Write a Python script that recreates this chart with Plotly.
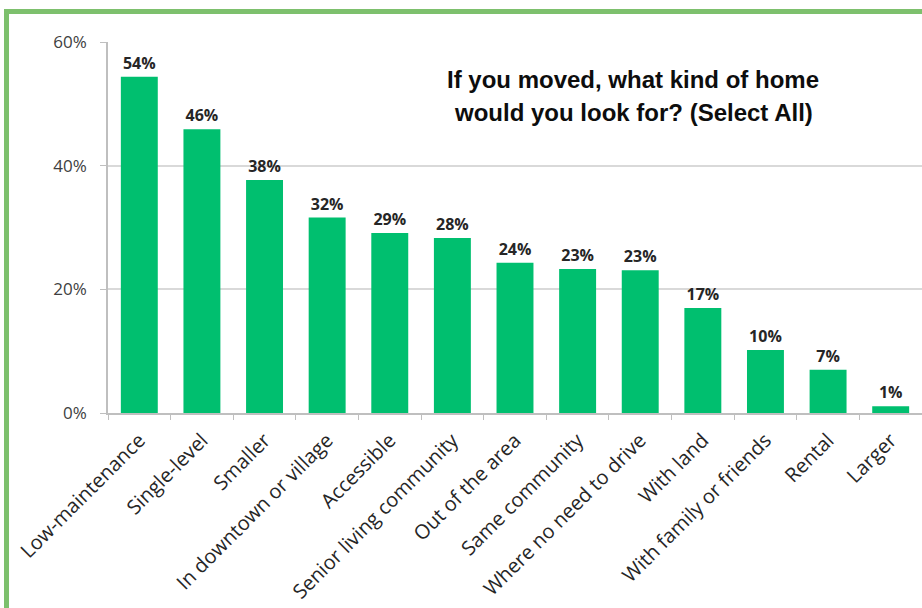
import plotly.graph_objects as go

categories = ["Low-maintenance", "Single-level", "Smaller", "In downtown or village",
              "Accessible", "Senior living community", "Out of the area", "Same community",
              "Where no need to drive", "With land", "With family or friends", "Rental", "Larger"]
values = [54.4, 45.9, 37.7, 31.6, 29.1, 28.3, 24.3, 23.3, 23.1, 17.0, 10.2, 7.0, 1.1]
value_labels = ["54%", "46%", "38%", "32%", "29%", "28%", "24%", "23%", "23%", "17%", "10%", "7%", "1%"]
y_ticks = [0, 20, 40, 60]
y_tick_labels = ["0%", "20%", "40%", "60%"]
title_lines = ["If you moved, what kind of home", "would you look for? (Select All)"]

W, H = 922, 608
ml, mr, mt, mb = 108, 0, 42, 195
pw, ph = W - ml - mr, H - mt - mb

fig = go.Figure(go.Bar(
    x=categories, y=values, marker=dict(color="#00BF6F", line=dict(width=0)),
    text=value_labels, textposition="outside", cliponaxis=False,
    textfont=dict(family="Open Sans", size=16, color="#262626"),
    texttemplate="<b>%{text}</b>",
))

def py(pix):
    return (H - mb - pix) / ph

annotations = []
for line, base in zip(title_lines, [89, 122]):
    annotations.append(dict(text="<b>" + line + "</b>", xref="paper", yref="paper",
                            x=(633 - ml) / pw, y=py(base + 6), xanchor="center", yanchor="bottom",
                            showarrow=False,
                            font=dict(family="Liberation Sans", size=24, color="#0D0D0D")))

fig.update_layout(
    width=W, height=H, margin=dict(l=ml, r=mr, t=mt, b=mb, autoexpand=False),
    paper_bgcolor="white", plot_bgcolor="white", showlegend=False, bargap=0.41,
    xaxis=dict(tickangle=-45, tickfont=dict(family="Open Sans", size=20, color="#262626"),
               showline=True, linecolor="#BFBFBF", linewidth=1.5, ticks="outside",
               tickson="boundaries", ticklen=5, tickcolor="#BFBFBF", showgrid=False,
               automargin=False, ticklabelstandoff=6),
    yaxis=dict(range=[0, 60], tickvals=y_ticks, ticktext=y_tick_labels,
               tickfont=dict(family="Open Sans", size=17, color="#404040"),
               showline=True, linecolor="#BFBFBF", linewidth=1.5, ticks="outside",
               ticklen=6, tickcolor="#BFBFBF", showgrid=True, gridcolor="#D9D9D9",
               gridwidth=1.5, zeroline=False, ticklabelstandoff=10, automargin=False),
    annotations=annotations,
    shapes=[dict(type="rect", xref="paper", yref="paper",
                 x0=(6.5 - ml) / pw, x1=1.2, y0=-1, y1=py(11.5),
                 line=dict(color="#7DC06D", width=5), fillcolor="rgba(0,0,0,0)", layer="above")],
)

fig.write_html("out.html", config={"displayModeBar": False},
               post_script="document.body.style.margin='0px';")
